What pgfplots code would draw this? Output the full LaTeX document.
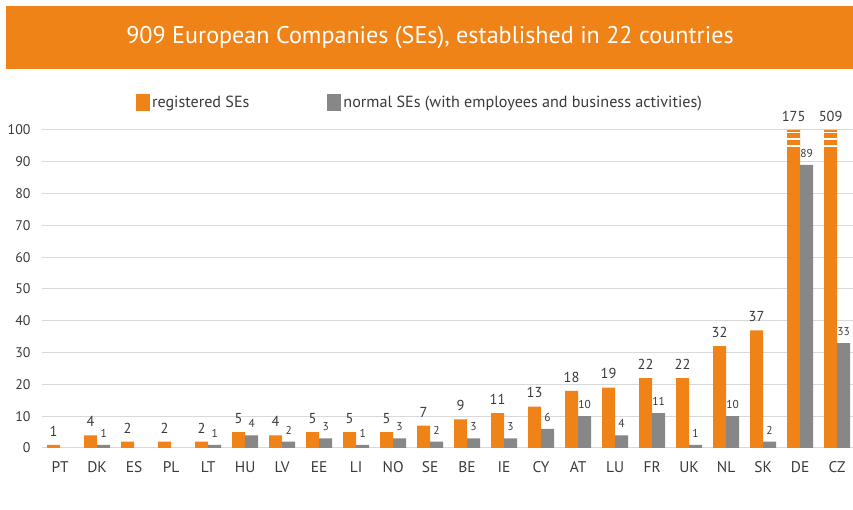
\documentclass[border=0pt]{standalone}
\usepackage{pgfplots}
\pgfplotsset{compat=1.18}
\usepackage{pgfplotstable}
\usepackage{fontspec}
\setmainfont{PT Sans}
\definecolor{seorange}{HTML}{EF8318}
\definecolor{segray}{HTML}{878787}
\definecolor{gridgray}{HTML}{D9D9D9}
\definecolor{txt}{HTML}{3A3A3A}

\pgfplotstableread{
x reg regplot
0 1 1
1 4 4
2 2 2
3 2 2
4 2 2
5 5 5
6 4 4
7 5 5
8 5 5
9 5 5
10 7 7
11 9 9
12 11 11
13 13 13
14 18 18
15 19 19
16 22 22
17 22 22
18 32 32
19 37 37
20 175 100
21 509 100
}\regtable

\pgfplotstableread{
x norm
1 1
4 1
5 4
6 2
7 3
8 1
9 3
10 2
11 3
12 3
13 6
14 10
15 4
16 11
17 1
18 10
19 2
20 89
21 33
}\normtable

\begin{document}
\begin{tikzpicture}[x=1bp,y=1bp]
\path[use as bounding box] (0,0) rectangle (853,510);
\fill[seorange] (6,441) rectangle (853,504);
\node[white, font=\fontsize{24.2}{28}\selectfont] at (430,472.5) {909 European Companies (SEs), established in 22 countries};
\begin{axis}[
  at={(42bp,62bp)}, anchor=south west,
  scale only axis, width=811bp, height=318bp,
  xmin=-0.49, xmax=21.43, ymin=0, ymax=100,
  axis line style={draw=none},
  clip=false,
  ybar, bar width=13bp,
  xtick=data,
  xticklabels={PT,DK,ES,PL,LT,HU,LV,EE,LI,NO,SE,BE,IE,CY,AT,LU,FR,UK,NL,SK,DE,CZ},
  ytick={0,10,...,100},
  ymajorgrids, grid style={gridgray, line width=1bp},
  major tick length=0pt,
  x tick label style={font=\fontsize{15.5}{18}\selectfont, text=txt, yshift=-10bp},
  y tick label style={font=\fontsize{14}{16}\selectfont, text=txt, xshift=-8bp},
  /pgf/number format/assume math mode=true,
  legend style={at={(0.112,1.085)}, anchor=west, draw=none, fill=none,
    legend columns=2, font=\fontsize{16.2}{19}\selectfont, text=txt,
    /tikz/every even column/.append style={column sep=76bp},
    legend cell align=left},
  legend image code/.code={\fill[#1] (0bp,-8.5bp) rectangle (14bp,8.5bp);},
]
\addplot[fill=seorange, draw=none, bar shift=-6.5bp,
  nodes near coords, point meta=explicit,
  every node near coord/.append style={font=\fontsize{14.5}{16}\selectfont, text=txt, yshift=5bp, /pgf/number format/assume math mode=true}]
  table[x=x, y=regplot, meta=reg] {\regtable};
\addlegendentry{registered SEs}
\addplot[fill=segray, draw=none, bar shift=6.5bp,
  nodes near coords, point meta=explicit,
  every node near coord/.append style={font=\fontsize{11.5}{13}\selectfont, text=txt, yshift=4bp, /pgf/number format/assume math mode=true}]
  table[x=x, y=norm, meta=norm] {\normtable};
\addlegendentry{normal SEs (with employees and business activities)}
\draw[white, line width=1.8bp] (axis cs:19.64,99.2) -- (axis cs:20.005,99.2);
\draw[white, line width=2.6bp] (axis cs:19.64,97.2) -- (axis cs:20.005,97.2);
\draw[white, line width=2.4bp] (axis cs:19.64,95.0) -- (axis cs:20.005,95.0);
\draw[white, line width=1.8bp] (axis cs:20.64,99.2) -- (axis cs:21.005,99.2);
\draw[white, line width=2.6bp] (axis cs:20.64,97.2) -- (axis cs:21.005,97.2);
\draw[white, line width=2.4bp] (axis cs:20.64,95.0) -- (axis cs:21.005,95.0);
\end{axis}
\end{tikzpicture}
\end{document}
